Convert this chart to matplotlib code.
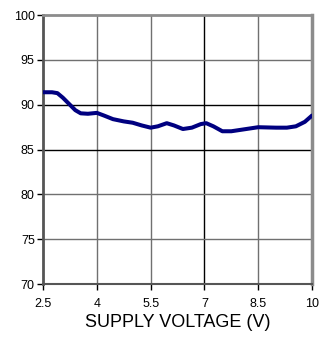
import matplotlib
matplotlib.use("Agg")
import matplotlib.pyplot as plt

plt.rcParams["font.family"] = ["Liberation Sans", "DejaVu Sans"]

NAVY = "#000080"

# supply voltage (V) vs efficiency (%)
voltage = [2.5, 2.75, 2.9, 3.05, 3.25, 3.4, 3.55, 3.75, 4.0, 4.2, 4.45, 4.75,
           5.0, 5.25, 5.5, 5.7, 5.95, 6.15, 6.4, 6.65, 6.9, 7.05, 7.25, 7.5,
           7.75, 8.0, 8.5, 9.0, 9.3, 9.55, 9.8, 10.0]
efficiency = [91.4, 91.4, 91.3, 90.8, 90.0, 89.4, 89.05, 89.0, 89.1, 88.8,
              88.4, 88.15, 88.0, 87.7, 87.45, 87.6, 87.95, 87.7, 87.3, 87.45,
              87.85, 87.95, 87.6, 87.05, 87.05, 87.2, 87.5, 87.45, 87.45,
              87.6, 88.1, 88.8]

xticks = [2.5, 4, 5.5, 7, 8.5, 10]
xticklabels = ["2.5", "4", "5.5", "7", "8.5", "10"]
yticks = [70, 75, 80, 85, 90, 95, 100]

fig = plt.figure(figsize=(3.19, 3.37), dpi=100)
ax = fig.add_axes([0.135, 0.157, 0.843, 0.798])

# grid lines: the reference mixes black and grey ones
for x in xticks[1:-1]:
    ax.axvline(x, color="black" if x == 7 else "#707070", lw=1.0, zorder=1)
for y in yticks[1:-1]:
    ax.axhline(y, color="black" if y in (85, 90) else "#707070", lw=1.0, zorder=1)

ax.plot(voltage, efficiency, color=NAVY, lw=2.9, solid_capstyle="round",
        solid_joinstyle="round", zorder=3)

ax.set_xlim(2.5, 10)
ax.set_ylim(70, 100)
ax.set_xticks(xticks)
ax.set_xticklabels(xticklabels)
ax.set_yticks(yticks)
ax.tick_params(direction="out", length=4, width=1, labelsize=9, pad=2,
               color="black")
ax.tick_params(axis="x", pad=6)
ax.set_xlabel("SUPPLY VOLTAGE (V)", fontsize=13, labelpad=3)

ax.spines["left"].set_color("#555555")
ax.spines["left"].set_linewidth(2)
ax.spines["bottom"].set_color("#555555")
ax.spines["bottom"].set_linewidth(1.5)
ax.spines["top"].set_color("#8c8c8c")
ax.spines["top"].set_linewidth(2)
ax.spines["right"].set_color("#8c8c8c")
ax.spines["right"].set_linewidth(2.5)

fig.savefig("out.png", dpi=100)
